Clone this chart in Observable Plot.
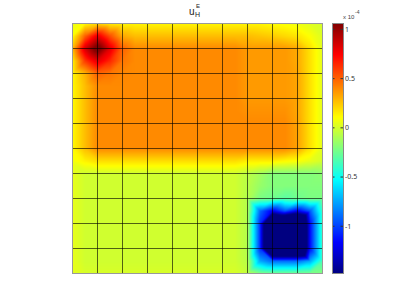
<!DOCTYPE html>
<html>
<head>
<meta charset="utf-8">
<script src="https://cdn.jsdelivr.net/npm/d3@7"></script>
<script src="https://cdn.jsdelivr.net/npm/@observablehq/plot@0.6"></script>
<style>
  html, body { margin: 0; padding: 0; background: #fff; }
  #wrap { position: relative; width: 409px; height: 307px; background: #fff; font-family: "Liberation Sans", Arial, sans-serif; color: #222; overflow: hidden; }
  .abs { position: absolute; line-height: 1; white-space: nowrap; }
</style>
</head>
<body>
<div id="wrap">
  <div id="main" class="abs" style="left:0;top:0"></div>
  <div id="cb" class="abs" style="left:332px;top:0"></div>
  <span class="abs" style="left:189px;top:6.5px;font-size:10px">u</span>
  <span class="abs" style="left:196px;top:2.9px;font-size:6px">E</span>
  <span class="abs" style="left:195px;top:11.4px;font-size:7px">H</span>
  <span class="abs" style="left:343px;top:14px;font-size:6px;color:#444">x 10</span>
  <span class="abs" style="left:355px;top:9.5px;font-size:5px;color:#444">-4</span>
</div>
<script>
// field values (x 1e-4) on a 21x21 node grid (half-cell spacing), row 0 = top
const fieldRows = [
 [0.06,0.12,0.20,0.15,0.13,0.13,0.13,0.13,0.13,0.13,0.13,0.13,0.13,0.13,0.13,0.13,0.11,0.09,0.07,0.03,0.00],
 [0.10,0.50,0.80,0.55,0.32,0.27,0.27,0.27,0.27,0.27,0.27,0.27,0.27,0.27,0.27,0.25,0.23,0.20,0.17,0.10,0.02],
 [0.28,0.85,1.15,0.82,0.50,0.40,0.40,0.40,0.40,0.40,0.40,0.40,0.40,0.40,0.36,0.36,0.36,0.36,0.32,0.18,0.04],
 [0.14,0.60,0.82,0.65,0.45,0.40,0.40,0.40,0.40,0.40,0.40,0.40,0.40,0.40,0.36,0.36,0.36,0.36,0.32,0.18,0.04],
 [0.12,0.30,0.50,0.45,0.41,0.40,0.40,0.40,0.40,0.40,0.40,0.40,0.40,0.40,0.36,0.36,0.36,0.36,0.33,0.18,0.04],
 [0.12,0.27,0.40,0.40,0.40,0.40,0.40,0.40,0.40,0.40,0.40,0.40,0.40,0.40,0.36,0.36,0.36,0.36,0.33,0.18,0.04],
 [0.12,0.27,0.40,0.40,0.40,0.40,0.40,0.40,0.40,0.40,0.40,0.40,0.40,0.40,0.36,0.36,0.36,0.36,0.33,0.18,0.04],
 [0.12,0.27,0.40,0.40,0.40,0.40,0.40,0.40,0.40,0.40,0.40,0.40,0.40,0.40,0.38,0.38,0.38,0.38,0.33,0.18,0.04],
 [0.12,0.27,0.40,0.40,0.40,0.40,0.40,0.40,0.40,0.40,0.40,0.40,0.40,0.40,0.40,0.40,0.40,0.40,0.34,0.18,0.04],
 [0.12,0.27,0.40,0.40,0.40,0.40,0.40,0.40,0.40,0.40,0.40,0.40,0.40,0.40,0.40,0.40,0.40,0.40,0.34,0.18,0.04],
 [0.12,0.27,0.40,0.40,0.40,0.40,0.40,0.40,0.40,0.40,0.40,0.40,0.40,0.40,0.40,0.40,0.40,0.40,0.34,0.18,0.04],
 [0.08,0.14,0.19,0.19,0.19,0.19,0.19,0.19,0.19,0.19,0.19,0.19,0.19,0.19,0.15,0.15,0.15,0.12,0.10,0.05,0.00],
 [0.05,-0.01,-0.01,-0.01,-0.01,-0.01,-0.01,-0.01,-0.01,-0.01,-0.01,-0.01,-0.01,-0.01,-0.06,-0.12,-0.20,-0.20,-0.20,-0.20,-0.18],
 [0.05,-0.01,-0.01,-0.01,-0.01,-0.01,-0.01,-0.01,-0.01,-0.01,-0.01,-0.01,-0.01,-0.01,-0.07,-0.15,-0.20,-0.20,-0.20,-0.20,-0.20],
 [0.05,-0.01,-0.01,-0.01,-0.01,-0.01,-0.01,-0.01,-0.01,-0.01,-0.01,-0.01,-0.01,-0.01,-0.08,-0.22,-0.25,-0.30,-0.25,-0.22,-0.22],
 [0.05,-0.01,-0.01,-0.01,-0.01,-0.01,-0.01,-0.01,-0.01,-0.01,-0.01,-0.01,-0.01,-0.01,-0.08,-0.90,-1.20,-0.95,-1.20,-0.95,-0.38],
 [0.05,-0.01,-0.01,-0.01,-0.01,-0.01,-0.01,-0.01,-0.01,-0.01,-0.01,-0.01,-0.01,-0.01,-0.08,-1.05,-2.50,-2.50,-2.50,-1.15,-0.38],
 [0.05,-0.01,-0.01,-0.01,-0.01,-0.01,-0.01,-0.01,-0.01,-0.01,-0.01,-0.01,-0.01,-0.01,-0.08,-1.05,-2.50,-2.50,-2.50,-1.15,-0.38],
 [0.05,-0.01,-0.01,-0.01,-0.01,-0.01,-0.01,-0.01,-0.01,-0.01,-0.01,-0.01,-0.01,-0.01,-0.08,-1.05,-2.50,-2.50,-2.50,-1.15,-0.38],
 [0.05,-0.01,-0.01,-0.01,-0.01,-0.01,-0.01,-0.01,-0.01,-0.01,-0.01,-0.01,-0.01,-0.01,-0.07,-0.75,-0.90,-0.90,-0.90,-0.75,-0.35],
 [0.04,0.01,0.01,0.01,0.01,0.01,0.01,0.01,0.01,0.01,0.01,0.01,0.01,0.01,-0.04,-0.20,-0.24,-0.24,-0.24,-0.22,-0.20]
];
const gridLines = [1,2,3,4,5,6,7,8,9];
const colorMin = -1.48, colorMax = 1.06;
const colorTicks = [-1, -0.5, 0, 0.5, 1];
const tickLabels = ["-1", "-0.5", "0", "0.5", "1"];
const jetColors = ["#000080", "#0000ff", "#00ffff", "#ffff00", "#ff0000", "#800000"];
const jetStops = [0, 0.125, 0.375, 0.625, 0.875, 1];

const jetDomain = jetStops.map(t => colorMin + t * (colorMax - colorMin));
const colorOpts = {type: "linear", domain: jetDomain, range: jetColors, interpolate: "rgb", clamp: true};

const nodes = [];
fieldRows.forEach((row, j) => row.forEach((v, i) => nodes.push({x: i * 0.5, y: j * 0.5, v})));

const main = Plot.plot({
  width: 332, height: 307,
  marginLeft: 72, marginRight: 10, marginTop: 23, marginBottom: 34,
  x: {domain: [0, 10], axis: null},
  y: {domain: [0, 10], reverse: true, axis: null},
  color: colorOpts,
  style: {background: "transparent"},
  marks: [
    Plot.raster(nodes, {x: "x", y: "y", fill: "v", interpolate: "barycentric", x1: 0, x2: 10, y1: 0, y2: 10}),
    Plot.ruleX(gridLines, {stroke: "#000", strokeOpacity: 0.62}),
    Plot.ruleY(gridLines, {stroke: "#000", strokeOpacity: 0.62}),
    Plot.frame({stroke: "#999"})
  ]
});
document.getElementById("main").appendChild(main);

const cb = Plot.plot({
  width: 77, height: 307,
  marginLeft: 0, marginRight: 66, marginTop: 23, marginBottom: 34,
  x: {domain: [0, 1], axis: null},
  y: {domain: [colorMin, colorMax], axis: null},
  color: colorOpts,
  style: {background: "transparent", color: "#333"},
  marks: [
    Plot.raster({fill: (x, y) => y, x1: 0, x2: 1, y1: colorMin, y2: colorMax}),
    Plot.tickY(colorTicks, {y: d => d, insetRight: 8.5, stroke: "#333"}),
    Plot.tickY(colorTicks, {y: d => d, insetLeft: 8.5, stroke: "#333"}),
    Plot.axisY({anchor: "right", ticks: colorTicks, tickSize: 0, tickPadding: 1.5, fontSize: 7,
      tickFormat: d => tickLabels[colorTicks.indexOf(d)]}),
    Plot.frame({stroke: "#888"})
  ]
});
document.getElementById("cb").appendChild(cb);
</script>
</body>
</html>
